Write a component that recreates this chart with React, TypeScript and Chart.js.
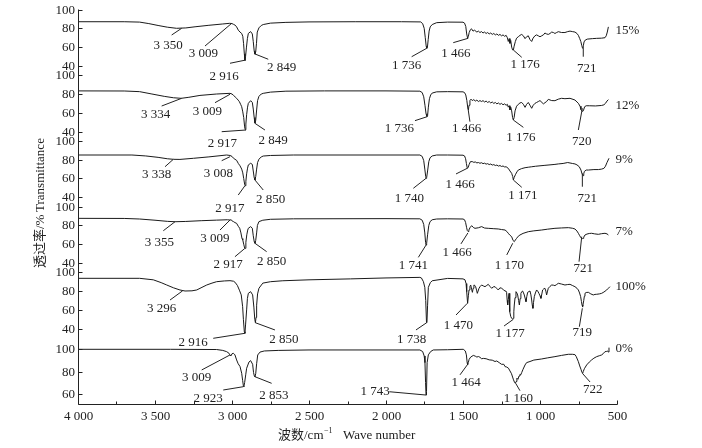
import React, { useEffect, useRef } from "react";
import { Chart, registerables } from "chart.js";
Chart.register(...registerables);

// ---------- data (wavenumber cm^-1, transmittance %) ----------
const SERIES_NAMES = ["15%", "12%", "9%", "7%", "100%", "0%"];

const S15: number[][] = [
  [4000,87],[3700,87],[3600,86.6],[3540,85],[3480,83],[3420,81.2],[3360,80],[3300,80.4],[3240,81.6],[3150,83.2],[3060,84.6],[3015,85.3],[3000,85],[2990,84.2],[2981,83.5],[2970,81.5],[2959,78],[2948,76],[2937,74.5],[2930,71.5],[2925,64],[2920,53],[2916,46],[2912,50],[2906,60],[2900,69],[2894,74.5],[2879,76.5],[2868,74],[2862,66],[2856,56],[2851,52.5],[2846,55],[2841,64],[2836,76],[2825,80.5],[2810,83],[2797,84],[2750,85.5],[2650,86.3],[2500,86.8],[2200,87],[1900,87],[1775,86.8],[1762,85],[1752,80],[1745,70],[1739,61],[1735,58.7],[1731,60],[1726,68],[1720,77],[1713,81.5],[1700,84],[1671,86],[1600,86.6],[1500,86.5],[1490,85.5],[1482,82],[1476,74],[1470,69.4],[1465,71.5],[1460,75.5],[1452,78.5],[1445,79.5],[1435,77],[1425,78],[1410,76],[1400,77],[1390,75.5],[1380,76.5],[1370,75],[1360,76],[1350,74.5],[1340,75.5],[1330,74],[1320,75],[1310,73.5],[1300,74.5],[1290,73],[1280,74],[1270,72.5],[1260,73.5],[1250,72],[1240,73],[1230,71.5],[1220,72.5],[1212,70],[1206,66],[1200,69],[1195,64],[1190,67],[1184,60],[1178,57],[1173,56.9],[1168,61],[1160,66],[1152,69.5],[1141,71],[1130,72.5],[1119,73.5],[1108,72],[1097,69],[1087,71],[1076,72],[1065,68],[1054,66],[1045,69.5],[1033,72],[1022,73],[1011,72],[1000,71],[989,72],[978,73],[968,75],[957,74],[946,73.5],[935,74.5],[924,76],[913,75.5],[903,74.5],[892,75.5],[881,76.4],[860,75.5],[838,75.5],[820,76.5],[805,77],[790,76.5],[773,76],[760,74.5],[751,72.5],[742,69],[735,66],[729,62],[725,59.5],[721,58.7],[718,62],[714,65.5],[706,67.5],[693,68.5],[660,69],[632,69.3],[600,69.5],[578,70],[570,72],[563,76],[556,81.5]
];

const S12: number[][] = [
  [4000,83.3],[3700,83.2],[3600,82.5],[3520,80],[3440,77.5],[3380,76],[3330,75.4],[3280,76.5],[3208,78.5],[3100,80],[3013,80.7],[3000,80],[2990,78.5],[2980,77],[2970,75.4],[2960,73.5],[2952,71.8],[2944,69],[2937,66.5],[2930,61],[2924,55],[2918,45],[2914,42],[2910,48],[2905,58],[2899,66],[2894,70],[2879,72.9],[2868,71],[2862,64],[2856,55],[2851,49],[2846,52],[2840,63],[2834,73],[2825,77.5],[2810,80],[2797,80.7],[2750,82],[2650,83],[2400,83.3],[2000,83.3],[1780,83],[1765,81.5],[1755,77],[1747,68],[1740,59],[1734,56],[1730,57],[1725,66],[1718,75],[1710,79],[1700,81],[1671,82.3],[1600,82.5],[1500,82.3],[1490,81.5],[1482,79],[1475,73],[1468,64],[1465,63],[1461,68],[1455,73],[1448,74.5],[1440,73],[1430,74],[1420,72.5],[1410,73.5],[1400,72],[1390,73],[1379,72],[1370,73],[1360,71.5],[1350,72.5],[1340,71],[1330,72],[1320,70.5],[1310,71.5],[1300,70],[1290,71],[1280,69.5],[1270,70.5],[1260,69],[1250,70],[1240,68.5],[1230,69.5],[1220,68],[1212,69],[1206,66],[1200,67.5],[1195,63],[1190,66],[1184,62],[1178,55],[1173,52.3],[1168,55],[1162,62],[1152,67],[1141,69],[1130,70.5],[1119,71],[1108,69],[1097,65.8],[1087,69],[1076,71],[1065,68],[1054,64.8],[1044,68],[1033,70],[1022,71],[1011,72],[1000,73],[978,69.5],[957,72],[946,74.3],[924,73],[903,72.9],[881,74.5],[860,75.4],[838,75],[805,75.4],[773,73.6],[751,70.1],[740,67],[734,63.5],[728,62],[722,61.5],[717,63],[710,66.5],[700,67.5],[680,67.5],[640,67.3],[600,67.8],[585,68.5],[575,70],[565,72.5],[556,74]
];

const S9: number[][] = [
  [4000,85],[3650,85],[3560,84],[3480,82.5],[3420,81],[3380,80.4],[3338,80.3],[3250,81.5],[3150,83],[3035,85],[3013,84.5],[3000,83.5],[2990,81.5],[2981,80.5],[2970,79.3],[2959,76],[2948,73.5],[2937,70],[2930,66],[2924,60],[2918,54],[2915,52.3],[2910,57],[2905,65],[2899,71],[2894,74.4],[2879,76.2],[2868,75],[2862,68],[2856,61],[2851,58.4],[2846,62],[2840,70],[2834,77],[2825,80.5],[2810,83],[2797,83.9],[2750,84.5],[2600,85],[2000,85],[1780,85],[1765,83.5],[1755,79],[1748,70],[1742,62],[1740,60.2],[1736,61],[1730,68],[1722,78],[1714,82],[1700,84],[1671,85],[1600,85],[1500,84.8],[1490,84],[1483,81],[1478,76],[1472,70.9],[1467,71.5],[1460,75],[1452,77.9],[1440,78],[1430,77.2],[1420,77.6],[1410,76.6],[1400,77],[1390,76.2],[1380,76.8],[1370,75.8],[1360,76.3],[1350,75.3],[1340,75.8],[1330,74.8],[1320,75.4],[1310,74.3],[1300,74.8],[1290,73.8],[1280,74.3],[1270,73.2],[1260,73.8],[1250,72.8],[1240,73.3],[1230,72.3],[1220,72.5],[1206,70.8],[1195,68],[1184,65.5],[1177,62],[1173,58.4],[1168,61],[1160,64],[1150,67],[1141,69],[1120,70.5],[1097,71.5],[1076,72],[1054,72.5],[1030,73],[1000,73.5],[968,74],[935,74.5],[903,75],[881,75.5],[850,76],[820,77],[790,76],[773,75.5],[760,74.5],[745,72.5],[734,69],[728,65.5],[724,64],[720,63],[716,65],[712,67.5],[700,69],[686,69],[650,69.5],[621,69.5],[600,70],[585,70.8],[575,73],[565,77],[552,81.5]
];

const S7: number[][] = [
  [4000,87.5],[3700,87.4],[3600,86.8],[3500,85.5],[3420,84.3],[3370,83.9],[3300,84.2],[3200,85],[3100,85.6],[3030,86],[3013,85.7],[3005,86],[2998,84.5],[2990,84],[2981,83],[2970,82.2],[2959,79],[2950,77],[2942,72],[2935,66],[2930,64.5],[2924,60],[2918,56],[2915,55.6],[2910,62],[2904,70],[2898,75],[2894,76.9],[2879,78.7],[2868,77],[2862,69],[2856,63],[2851,61],[2846,64],[2840,72],[2835,80],[2825,84],[2800,85.5],[2750,86.5],[2600,87],[2000,87.2],[1780,87],[1765,85.5],[1755,81],[1748,72],[1743,62],[1740,59.1],[1736,61],[1730,70],[1722,80],[1714,84],[1700,86],[1671,86.8],[1600,87],[1500,86.8],[1490,86],[1483,83],[1477,78],[1472,74.5],[1467,73.5],[1462,75],[1455,77.5],[1444,79.7],[1430,77.5],[1422,76.9],[1400,77.5],[1379,78.7],[1360,77.2],[1336,76.9],[1300,76.5],[1271,76.2],[1250,75.6],[1227,75.1],[1215,73.5],[1206,71.6],[1195,69.5],[1184,68],[1175,64],[1167,62.7],[1160,64.5],[1152,66.2],[1141,68.5],[1130,69.8],[1110,71.5],[1076,73.3],[1040,74.2],[989,75.1],[950,76],[903,76.9],[860,77.3],[816,77.6],[790,77],[773,76.2],[760,74],[751,71.6],[742,69],[734,66.8],[729,66.2],[724,66],[720,66.2],[716,67.5],[708,69.8],[695,70.8],[680,71.4],[665,71.6],[645,71],[621,70.5],[600,71.2],[578,71.6],[565,71],[556,69.8]
];

const S100: number[][] = [
  [4000,93.6],[3600,93.6],[3511,92],[3460,89],[3424,86.5],[3380,83.5],[3338,81.2],[3305,80.1],[3260,80.3],[3229,81.2],[3195,84],[3164,86.5],[3130,88.5],[3100,90],[3050,90.8],[3013,91.1],[2990,90.5],[2981,89.5],[2965,86],[2952,81],[2940,76],[2931,63.4],[2926,50],[2920,36.8],[2916,35.1],[2912,44],[2905,60],[2900,72],[2894,77.6],[2879,79.4],[2866,76],[2858,63],[2852,50],[2848,46.4],[2844,52],[2840,65],[2834,77],[2825,83],[2800,88.5],[2750,90],[2670,91],[2500,92],[2230,93],[2000,94],[1780,94.6],[1770,94],[1757,90],[1748,84],[1742,70],[1737,46.4],[1734,47],[1730,65],[1725,84],[1712,89],[1700,91],[1600,93.5],[1500,93],[1487,92],[1480,88],[1476,79.4],[1470,67],[1465,75],[1461,81.2],[1455,85],[1450,86.5],[1444,82],[1439,78.7],[1434,83],[1429,86.5],[1423,86],[1418,84.7],[1412,81],[1407,77.6],[1402,80],[1396,83],[1388,85],[1379,86.5],[1368,85.5],[1357,84.7],[1346,86],[1336,87.2],[1325,85],[1314,83],[1303,84.5],[1292,84.7],[1282,83],[1271,81.2],[1260,83.5],[1249,83],[1238,81.5],[1227,80.1],[1221,80],[1217,78.7],[1213,70],[1210,65.2],[1206,71],[1201,77.6],[1198,70],[1195,58.1],[1190,53],[1184,51],[1178,50.5],[1173,51],[1170,58],[1167,65.2],[1162,73],[1156,79.4],[1150,78],[1145,75.9],[1139,70],[1134,65.2],[1129,72],[1124,77.6],[1118,79.5],[1113,80.1],[1107,78],[1102,75.9],[1096,72],[1091,68.8],[1086,74],[1080,78.7],[1072,79.5],[1065,80.1],[1059,76],[1054,70.5],[1050,65],[1046,61.7],[1042,68],[1037,74.1],[1030,78],[1022,81.2],[1015,80],[1007,77.6],[1000,75],[994,72.3],[988,77],[983,81.2],[975,82.5],[968,83],[962,80],[957,75.9],[951,80],[946,83],[935,85],[924,86.5],[913,86.3],[903,85.8],[892,87],[881,88.3],[860,87.5],[838,86.5],[820,87],[805,87.2],[790,86],[773,84.7],[760,83],[751,81.2],[743,78],[736,74.1],[731,69],[727,65.2],[724,63],[721,64],[716,70],[712,74.5],[708,77.6],[700,78.5],[686,78.7],[670,77],[654,75.9],[643,76.5],[632,76.6],[615,77],[600,77.6],[585,79],[567,81.2],[556,83],[546,84.7]
];

const S0: number[][] = [
  [4000,100],[3400,100],[3100,99.8],[3060,99],[3035,97.9],[3020,96.5],[3013,94.9],[3007,94],[3000,96],[2991,96.4],[2981,95],[2970,90.4],[2960,87],[2948,84.5],[2937,78.4],[2931,72],[2926,67],[2923,66.3],[2918,70],[2911,77],[2905,82.9],[2890,88.5],[2879,89.8],[2866,86.5],[2860,79],[2855,76],[2851,75.3],[2846,78],[2840,87],[2833,94.9],[2818,97.5],[2790,98.5],[2700,99],[2500,99.4],[2000,99.4],[1780,99.4],[1762,98],[1752,94],[1747,88],[1743,70],[1740,58.8],[1737,62],[1733,88],[1725,95],[1710,98],[1693,99.4],[1600,99.6],[1498,100],[1485,98.5],[1478,95],[1473,88],[1470,86],[1466,88],[1460,91],[1450,93],[1433,94.5],[1420,93.8],[1410,93],[1400,93.5],[1390,92.8],[1379,91.5],[1368,91.8],[1350,91.5],[1330,90.5],[1310,90.2],[1292,89],[1281,89.5],[1265,88],[1250,86.5],[1235,86.5],[1227,84.4],[1216,84],[1205,83],[1195,80.5],[1185,78],[1178,75],[1172,72.5],[1166,70.5],[1160,69.4],[1155,71],[1150,74],[1143,73],[1136,76],[1130,77.5],[1125,77],[1119,79],[1110,82],[1097,85.9],[1087,88],[1065,89],[1040,90.3],[989,91.3],[950,92.3],[903,93.4],[860,94.5],[816,95.5],[790,95.5],[773,95.2],[765,93.5],[751,88.9],[742,85],[734,82],[728,79.5],[723,78.4],[719,80],[712,82.5],[697,85.9],[680,88.5],[665,90.4],[650,92],[632,93.4],[615,94.2],[600,94.9],[590,96],[578,97.9],[570,98],[561,98.5],[556,97.5],[552,101.5]
];

const SERIES = [S15, S12, S9, S7, S100, S0];

// y-axis tick values shown for each panel
const Y_TICKS = [
  [100, 80, 60, 40],
  [100, 80, 60, 40],
  [100, 80, 60, 40],
  [100, 80, 60, 40],
  [100, 80, 60, 40],
  [100, 80, 60],
];
const X_MAJOR = [4000, 3500, 3000, 2500, 2000, 1500, 1000, 500];
const X_MINOR = [3750, 3250, 2750, 2250, 1750, 1250, 750];

// panel placement on the shared stacking axis (value of 100 % and scale factor)
const PANEL_G100 = [394.5, 328.8, 263.1, 197.4, 131.7, 54.7];
const PANEL_K = [0.94, 0.94, 0.94, 0.94, 0.94, 1.11];
const NAME_V = [77.4, 67.2, 79.7, 73.3, 84.7, 100.9];

// peak annotations: [label, anchor wn, anchor %, line dx, line dy, text dx, text dy]
const A15 = [
  [3350, 3327, 80, -10, 6.7, -13.4, 17.7],
  [3009, 3002, 85.3, -26.7, 22.7, -28.4, 30.7],
  [2916, 2909, 46.3, -16, 3.3, -22, 16.7],
  [2849, 2851, 52.7, 13.3, 5.3, 26.7, 13.7],
  [1736, 1736, 58.7, -15, 8.4, -20, 17.7],
  [1466, 1466, 69.4, -15, 4.4, -12.3, 15],
  [1176, 1173, 56.9, 8.4, 7.3, 11.7, 15],
  [721, 719, 58.7, 0, 8.4, 3.4, 20],
];
const A12 = [
  [3334, 3327, 75.4, -20, 7.7, -26, 16.7],
  [3009, 3013, 79.7, -15, 8.4, -22.7, 17.4],
  [2917, 2909, 41.7, -24.3, 1.7, -23.7, 13.3],
  [2849, 2851, 48.8, 10, 6.7, 18.3, 17.4],
  [1736, 1732, 55.9, -12.3, 4, -28, 11.6],
  [1466, 1466, 63, 1.7, 11.7, -1.6, 18.3],
  [1176, 1173, 52.3, 10, 7.3, 7.4, 17.3],
  [720, 725, 64.8, -4, 21.7, -0.6, 33.4],
];
const A9 = [
  [3338, 3381, 80.4, -8.3, 7.4, -16.6, 15.7],
  [3008, 3013, 83.2, -8.3, 4, -11.7, 17.3],
  [2917, 2916, 52.3, -6.7, 9.3, -15, 22.6],
  [2850, 2851, 58.4, 8.3, 10, 15.7, 20],
  [1740, 1740, 60.2, -12.7, 10, -16.7, 20],
  [1466, 1472, 70.9, -11.3, 5.7, -7.3, 16.7],
  [1171, 1173, 58.4, 8.4, 7.3, 9.4, 16],
  [721, 725, 65.5, 0, 13.4, 5, 25],
];
const A7 = [
  [3355, 3370, 83.9, -11.7, 9, -15.7, 21],
  [3009, 3013, 85.7, -10, 10, -15, 18.3],
  [2917, 2916, 55.6, -10, 8.4, -16.7, 16.7],
  [2850, 2851, 61, 11.7, 8.4, 16.7, 18.4],
  [1741, 1740, 59.1, -7.7, 12.3, -12.7, 21],
  [1466, 1468, 72, -7, 11, -10.7, 19.3],
  [1170, 1177, 61, -6, 11.7, -3.4, 22.7],
  [721, 729, 68, -2.7, 25, 1.6, 31.6],
];
const A100 = [
  [3296, 3320, 80.4, -12.7, 9.3, -21, 17.6],
  [2916, 2916, 35.1, -31.7, 5, -51.7, 9.4],
  [2850, 2849, 46.4, 19.7, 7.3, 28.7, 17.3],
  [1738, 1736, 46.4, -10.7, 7.3, -15, 16.6],
  [1470, 1472, 67, -11.3, 11.7, -9, 22.7],
  [1177, 1173, 50, -9.3, 6.7, -3.3, 14.7],
  [719, 725, 61.7, -3, 18.4, 0, 24.4],
];
const A0 = [
  [3009, 3013, 94.9, -28.3, 15, -33.3, 22.3],
  [2923, 2927, 66.3, -20, 3.3, -35, 11.6],
  [2853, 2851, 75.3, 16.7, 6.6, 19, 19],
  [1743, 1740, 58.8, -36.7, -3.3, -51, -3.3],
  [1464, 1472, 86, -7.3, 10, -1.3, 17.4],
  [1160, 1158, 69.4, 4.3, 7.4, 2.6, 15],
  [722, 725, 78.4, 7.7, 8.7, 10.4, 16.7],
];
const ANNOTATIONS = [A15, A12, A9, A7, A100, A0];

// ---------- helpers ----------
const FONT = '13px "Liberation Serif", "Noto Sans CJK SC", serif';
const INK = "#222";
const fmt = (n: number) =>
  n >= 1000 ? `${Math.floor(n / 1000)} ${String(n % 1000).padStart(3, "0")}` : String(n);
const stackY = (p: number, v: number) => PANEL_G100[p] - (100 - v) * PANEL_K[p];

const axesPlugin = {
  id: "ftirAxes",
  afterDraw(chart: any) {
    const { ctx, chartArea } = chart;
    const xs = chart.scales.x;
    const ys = chart.scales.y;
    const L = Math.round(chartArea.left) + 0.5;
    const B = Math.round(chartArea.bottom) + 0.5;
    ctx.save();
    ctx.strokeStyle = INK;
    ctx.fillStyle = INK;
    ctx.lineWidth = 1;
    // axis lines
    ctx.beginPath();
    ctx.moveTo(L, chartArea.top);
    ctx.lineTo(L, B);
    ctx.lineTo(Math.round(xs.getPixelForValue(500)) + 0.5, B);
    ctx.stroke();
    ctx.font = FONT;
    // x ticks
    ctx.textAlign = "center";
    ctx.textBaseline = "middle";
    X_MAJOR.forEach((v) => {
      const x = Math.round(xs.getPixelForValue(v)) + 0.5;
      ctx.beginPath();
      ctx.moveTo(x, B);
      ctx.lineTo(x, B - 4);
      ctx.stroke();
      ctx.fillText(fmt(v), x, B + 12);
    });
    X_MINOR.forEach((v) => {
      const x = Math.round(xs.getPixelForValue(v)) + 0.5;
      ctx.beginPath();
      ctx.moveTo(x, B);
      ctx.lineTo(x, B - 3);
      ctx.stroke();
    });
    // y ticks
    ctx.textAlign = "right";
    Y_TICKS.forEach((ticks, p) => {
      ticks.forEach((v) => {
        const y = Math.round(ys.getPixelForValue(stackY(p, v))) + 0.5;
        ctx.beginPath();
        ctx.moveTo(L, y);
        ctx.lineTo(L + 4, y);
        ctx.stroke();
        ctx.fillText(String(v), L - 3.5, y);
      });
    });
    // series names
    ctx.textAlign = "left";
    SERIES_NAMES.forEach((name, p) => {
      ctx.fillText(name, xs.getPixelForValue(510), ys.getPixelForValue(stackY(p, NAME_V[p])));
    });
    // peak annotations
    ctx.textAlign = "center";
    ANNOTATIONS.forEach((list, p) => {
      list.forEach(([label, wn, v, ldx, ldy, tdx, tdy]) => {
        const x = xs.getPixelForValue(wn);
        const y = ys.getPixelForValue(stackY(p, v));
        ctx.beginPath();
        ctx.moveTo(x, y);
        ctx.lineTo(x + ldx, y + ldy);
        ctx.stroke();
        ctx.fillText(fmt(label), x + tdx, y + tdy);
      });
    });
    // y title (rotated)
    ctx.save();
    ctx.translate(41, 268);
    ctx.rotate(-Math.PI / 2);
    ctx.textAlign = "left";
    ctx.fillText("透过率/%", 0, 0);
    ctx.fillText("Transmittance", 56, 0);
    ctx.restore();
    // x title
    ctx.textAlign = "left";
    ctx.fillText("波数/cm", 278, 436);
    const w = ctx.measureText("波数/cm").width;
    ctx.font = '8px "Liberation Serif", serif';
    ctx.fillText("−1", 278 + w + 0.5, 431);
    ctx.font = FONT;
    ctx.fillText("Wave number", 343, 436);
    ctx.restore();
  },
};

export default function App() {
  const ref = useRef<HTMLCanvasElement | null>(null);
  useEffect(() => {
    if (!ref.current) return;
    const chart = new Chart(ref.current, {
      type: "line",
      data: {
        datasets: SERIES.map((s, p) => ({
          label: SERIES_NAMES[p],
          data: s.map(([wn, v]) => ({ x: wn, y: stackY(p, v) })),
          borderColor: "#1a1a1a",
          borderWidth: 1,
          pointRadius: 0,
          tension: 0,
          fill: false,
        })),
      },
      options: {
        animation: false,
        responsive: false,
        devicePixelRatio: 1,
        layout: { padding: { left: 78, right: 85, top: 9.5, bottom: 44 } },
        scales: {
          x: { type: "linear", min: 500, max: 4000, reverse: true, display: false },
          y: { type: "linear", min: 0, max: 394.5, display: false },
        },
        plugins: { legend: { display: false }, tooltip: { enabled: false } },
      },
      plugins: [axesPlugin],
    });
    return () => chart.destroy();
  }, []);
  return (
    <div style={{ position: "absolute", left: 0, top: 0, width: 702, height: 448, background: "#fff" }}>
      <canvas ref={ref} width={702} height={448} />
    </div>
  );
}
